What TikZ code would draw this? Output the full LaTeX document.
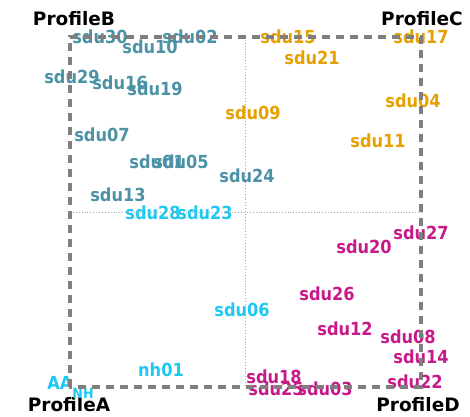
\documentclass[tikz,border=0pt]{standalone}
\usepackage{fontspec}
\setmainfont{DejaVu Sans}
\newfontfamily\lblfont{DejaVu Sans Condensed}
\begin{document}
\begin{tikzpicture}[x=1pt,y=-1pt,
  lbl/.style={inner sep=0pt, font=\lblfont\bfseries\fontsize{18}{18}\selectfont},
  grpA/.style={lbl, text=cyanA},
  grpB/.style={lbl, text=tealB},
  grpC/.style={lbl, text=orangeC},
  grpD/.style={lbl, text=magentaD},
  corner/.style={inner sep=0pt, font=\fontsize{18.5}{18.5}\selectfont\bfseries, text=black},
  frame/.style={draw=frameGray, line width=3.4pt, dash pattern=on 8pt off 6pt},
  cross/.style={draw=gray!70, line width=0.9pt, dash pattern=on 0.9pt off 2pt}]
\definecolor{cyanA}{HTML}{1EC8F2}
\definecolor{tealB}{HTML}{4C92A6}
\definecolor{orangeC}{HTML}{E6A000}
\definecolor{magentaD}{HTML}{C71A8A}
\definecolor{frameGray}{HTML}{7F7F7F}
\useasboundingbox (0,0) rectangle (470,416);

% quadrant corners
\coordinate (cA) at (70,387);
\coordinate (cB) at (70,37);
\coordinate (cC) at (421,37);
\coordinate (cD) at (421,387);
\coordinate (mT) at (245,37);
\coordinate (mB) at (245,387);
\coordinate (mL) at (70,212);
\coordinate (mR) at (421,212);

% corner titles
\node[corner] (pB) at (74,19) {ProfileB};
\node[corner] (pC) at (422,19) {ProfileC};
\node[corner] (pA) at (69,405) {ProfileA};
\node[corner] (pD) at (418,405) {ProfileD};

% group B
\node[grpB] (s30) at (100,37) {sdu30};
\node[grpB] (s02) at (190,37) {sdu02};
\node[grpB] (s10) at (150,47) {sdu10};
\node[grpB] (s29) at (72,77) {sdu29};
\node[grpB] (s16) at (120,83) {sdu16};
\node[grpB] (s19) at (155,89) {sdu19};
\node[grpB] (s07) at (102,135) {sdu07};
\node[grpB] (s01) at (157,162) {sdu01};
\node[grpB] (s05) at (181,162) {sdu05};
\node[grpB] (s24) at (247,176) {sdu24};
\node[grpB] (s13) at (118,195) {sdu13};

% group C
\node[grpC] (s15) at (288,37) {sdu15};
\node[grpC] (s17) at (421,37) {sdu17};
\node[grpC] (s21) at (312,58) {sdu21};
\node[grpC] (s09) at (253,113) {sdu09};
\node[grpC] (s04) at (413,101) {sdu04};
\node[grpC] (s11) at (378,141) {sdu11};

% group A
\node[grpA] (s28) at (153,213) {sdu28};
\node[grpA] (s23) at (205,213) {sdu23};
\node[grpA] (s06) at (242,310) {sdu06};
\node[grpA] (n01) at (161,370) {nh01};
\node[grpA] (aa) at (60,383) {AA};
\node[grpA, font=\lblfont\bfseries\fontsize{14}{14}\selectfont] (nh) at (83,393) {NH};

% group D
\node[grpD] (s27) at (421,233) {sdu27};
\node[grpD] (s20) at (364,247) {sdu20};
\node[grpD] (s26) at (327,294) {sdu26};
\node[grpD] (s12) at (345,329) {sdu12};
\node[grpD] (s08) at (408,337) {sdu08};
\node[grpD] (s14) at (421,357) {sdu14};
\node[grpD] (s22) at (415,382) {sdu22};
\node[grpD] (s18) at (274,377) {sdu18};
\node[grpD] (s25) at (276,389) {sdu25};
\node[grpD] (s03) at (325,389) {sdu03};

% axes and frame
\draw[cross] (mT) -- (mB);
\draw[cross] (mL) -- (mR);
\draw[frame] (cA) -- (cB) -- (cC) -- (cD) -- cycle;
\end{tikzpicture}
\end{document}
